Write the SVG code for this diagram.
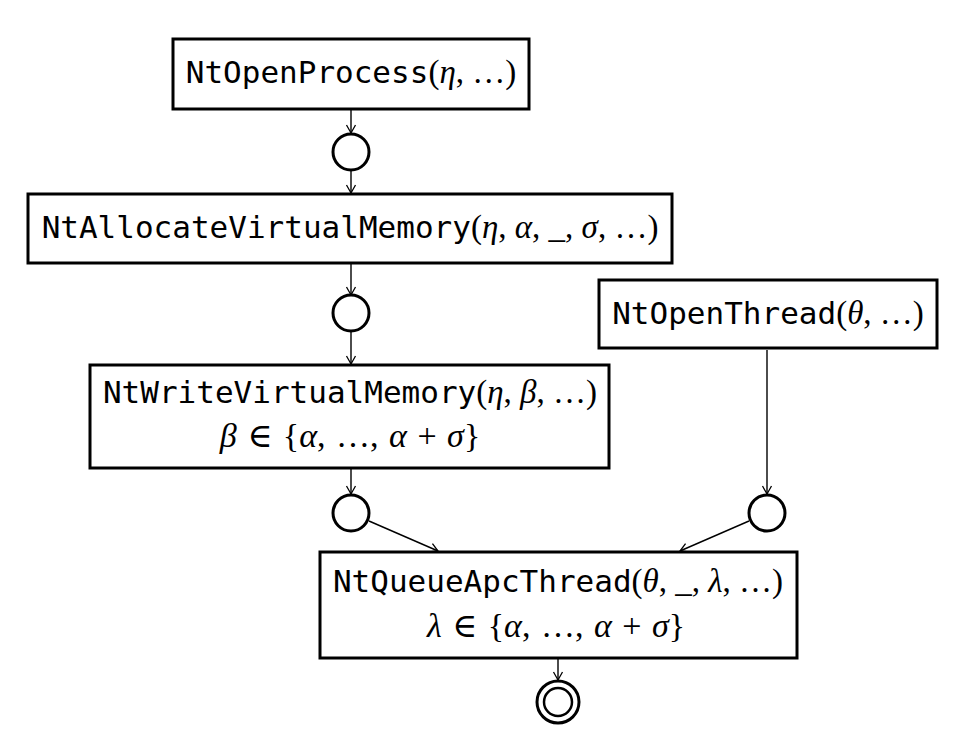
<svg xmlns="http://www.w3.org/2000/svg" width="965" height="744" viewBox="0 0 965 744">
<style>
.box{fill:#fff;stroke:#000;stroke-width:3}
.st{fill:#fff;stroke:#000;stroke-width:3}
.edge{stroke:#000;stroke-width:1.4;fill:none;marker-end:url(#ah)}
.t{font-family:"DejaVu Sans Mono",monospace;font-size:31px;fill:#000;text-anchor:middle}
.m{font-family:"Liberation Serif","DejaVu Serif",serif;font-size:33px}
.m2{font-family:"Liberation Serif","DejaVu Serif",serif;font-size:34px;word-spacing:2px}
.i{font-style:italic}
</style>
<defs>
<marker id="ah" markerWidth="12" markerHeight="12" refX="10" refY="6" orient="auto" markerUnits="userSpaceOnUse">
<path d="M2,1.5 L10,6 L2,10.5" fill="none" stroke="#000" stroke-width="1.3"/>
</marker>
</defs>
<rect width="965" height="744" fill="#fff"/>
<g id="connectors">
<line class="edge" x1="351" y1="110" x2="351" y2="133"/>
<line class="edge" x1="351" y1="170" x2="351" y2="193"/>
<line class="edge" x1="351" y1="264" x2="351" y2="295"/>
<line class="edge" x1="351" y1="331" x2="351" y2="364"/>
<line class="edge" x1="351" y1="469" x2="351" y2="494"/>
<line class="edge" x1="767" y1="350" x2="767" y2="494"/>
<line class="edge" x1="369" y1="521" x2="438" y2="551"/>
<line class="edge" x1="749" y1="521" x2="680" y2="551"/>
<line class="edge" x1="558" y1="659" x2="558" y2="680"/>
</g>
<g id="n1">
<rect class="box" x="173" y="39" width="356" height="70"/>
<text class="t" x="351" y="83">NtOpenProcess<tspan class="m">(<tspan class="i">η</tspan>, …)</tspan></text>
</g>
<g id="s1"><circle class="st" cx="351" cy="152" r="18"/></g>
<g id="n2">
<rect class="box" x="28" y="194" width="644" height="69"/>
<text class="t" x="350" y="238">NtAllocateVirtualMemory<tspan class="m">(<tspan class="i">η</tspan>, <tspan class="i">α</tspan>, _, <tspan class="i">σ</tspan>, …)</tspan></text>
</g>
<g id="s2"><circle class="st" cx="351" cy="313" r="18"/></g>
<g id="n3">
<rect class="box" x="90" y="365" width="519" height="103"/>
<text class="t" x="350" y="403">NtWriteVirtualMemory<tspan class="m">(<tspan class="i">η</tspan>, <tspan class="i">β</tspan>, …)</tspan></text>
<text class="t m2" x="350" y="447"><tspan class="i">β</tspan> ∈ {<tspan class="i">α</tspan>, …, <tspan class="i">α</tspan> + <tspan class="i">σ</tspan>}</text>
</g>
<g id="s3"><circle class="st" cx="351" cy="513" r="18"/></g>
<g id="n4">
<rect class="box" x="599" y="280" width="338" height="68"/>
<text class="t" x="768" y="324">NtOpenThread<tspan class="m">(<tspan class="i">θ</tspan>, …)</tspan></text>
</g>
<g id="s4"><circle class="st" cx="767" cy="513" r="18"/></g>
<g id="n5">
<rect class="box" x="320" y="552" width="477" height="106"/>
<text class="t" x="558" y="592">NtQueueApcThread<tspan class="m">(<tspan class="i">θ</tspan>, _, <tspan class="i">λ</tspan>, …)</tspan></text>
<text class="t m2" x="556" y="637"><tspan class="i">λ</tspan> ∈ {<tspan class="i">α</tspan>, …, <tspan class="i">α</tspan> + <tspan class="i">σ</tspan>}</text>
</g>
<g id="final">
<circle class="st" cx="558" cy="702" r="21"/>
<circle fill="none" stroke="#000" stroke-width="2.5" cx="558" cy="702" r="14"/>
</g>
</svg>
